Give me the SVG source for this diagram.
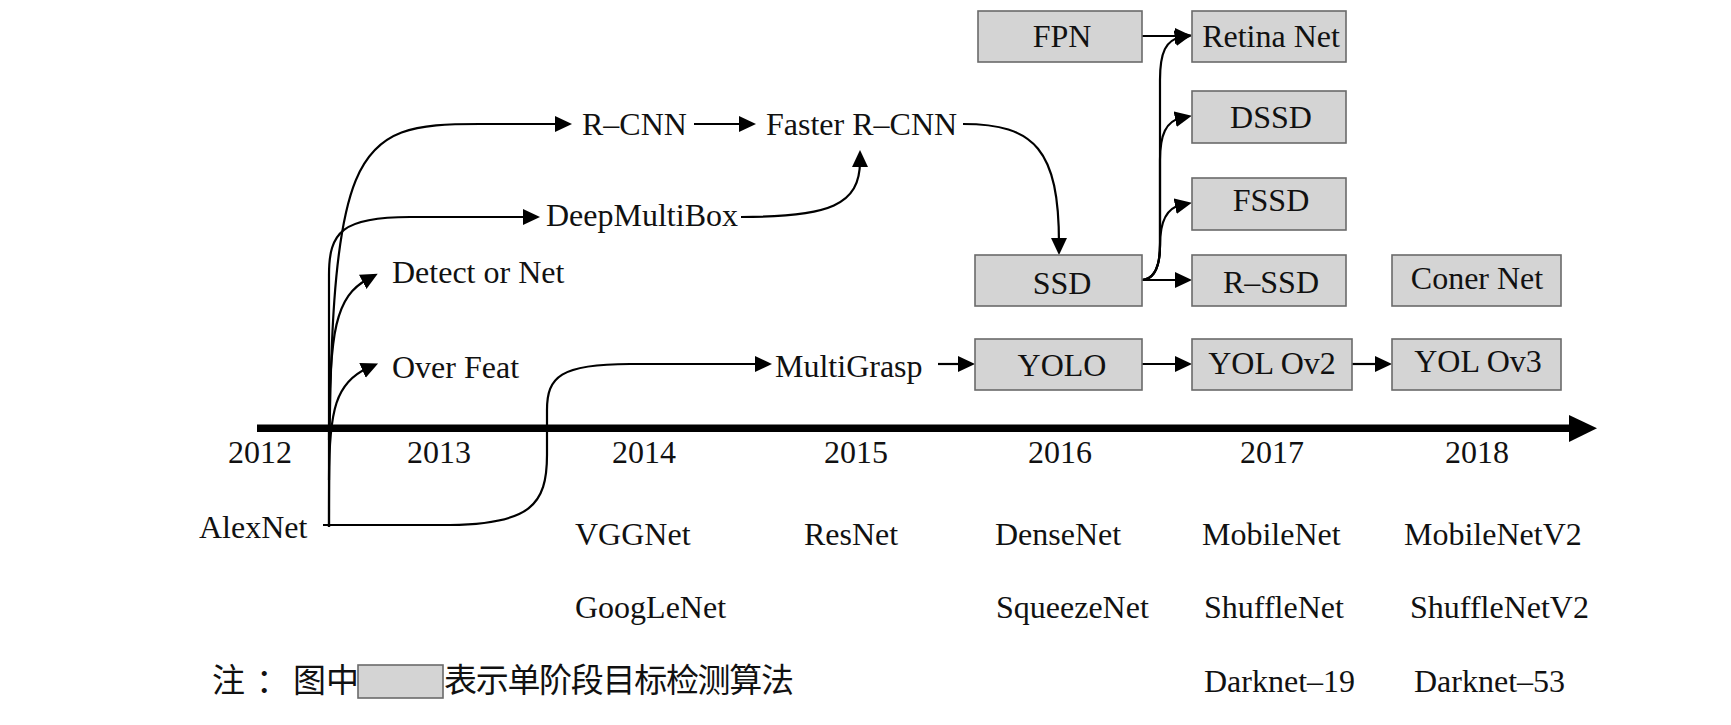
<svg xmlns="http://www.w3.org/2000/svg" width="1731" height="725" viewBox="0 0 1731 725">
<defs>
<style>
.t{font-family:"Liberation Serif","Times New Roman",serif;font-size:32px;fill:#111;}
.m{text-anchor:middle;}
.box{fill:#d4d4d4;stroke:#6a6a6a;stroke-width:1.6;}
.c{fill:none;stroke:#000;stroke-width:2.2;marker-end:url(#ah);}
.zh{font-family:"Noto Sans CJK SC","Noto Sans CJK TC",sans-serif;font-size:33px;fill:#111;}
</style>
<marker id="ah" markerUnits="userSpaceOnUse" markerWidth="20" markerHeight="18" refX="6" refY="8" orient="auto">
<path d="M0,0 L17,8 L0,16 z" fill="#000"/>
</marker>
</defs>
<rect width="1731" height="725" fill="#fff"/>

<g id="timeline">
<rect x="257" y="424.5" width="1315" height="7.5" fill="#000"/>
<polygon points="1569,415 1597,428.3 1569,442" fill="#000"/>
<text class="t m" x="260" y="463">2012</text>
<text class="t m" x="439" y="463">2013</text>
<text class="t m" x="644" y="463">2014</text>
<text class="t m" x="856" y="463">2015</text>
<text class="t m" x="1060" y="463">2016</text>
<text class="t m" x="1272" y="463">2017</text>
<text class="t m" x="1477" y="463">2018</text>
</g>

<g id="connectors">
<path class="c" d="M329,527 C329,140 350,124 480,124 L561,124"/>
<path class="c" d="M329,527 L329,275 C329,232 342,217 410,217 L529,217"/>
<path class="c" d="M329,440 C329,330 336,296 368,279"/>
<path class="c" d="M329,480 C329,410 336,382 368,368"/>
<path class="c" d="M323,525 L450,525 C530,524 547,505 547,455 L547,410 C547,377 560,364 630,364 L761,364"/>
<path class="c" d="M694,124 L745,124"/>
<path class="c" d="M741,217 C830,217 860,205 860,161"/>
<path class="c" d="M963,124 C1035,124 1059,150 1059,244"/>
<path class="c" d="M1142,280 L1181,280"/>
<path class="c" d="M1142,280 C1155,279 1160,265 1160,245 C1160,222 1166,208 1181,205"/>
<path class="c" d="M1142,280 C1155,279 1160,265 1160,245 L1160,160 C1160,135 1166,121 1181,118"/>
<path class="c" d="M1142,280 C1155,279 1160,265 1160,245 L1160,80 C1160,52 1166,40 1181,37"/>
<path class="c" d="M1142,36 L1181,36"/>
<path class="c" d="M938,364 L964,364"/>
<path class="c" d="M1142,364 L1181,364"/>
<path class="c" d="M1352,364 L1381,364"/>
</g>

<g id="alexnet"><text class="t" x="199" y="538">AlexNet</text></g>
<g id="rcnn"><text class="t" x="582" y="135">R–CNN</text></g>
<g id="faster-rcnn"><text class="t" x="766" y="135">Faster R–CNN</text></g>
<g id="deepmultibox"><text class="t" x="546" y="226">DeepMultiBox</text></g>
<g id="detectornet"><text class="t" x="392" y="283">Detect or Net</text></g>
<g id="overfeat"><text class="t" x="392" y="378">Over Feat</text></g>
<g id="multigrasp"><text class="t" x="775" y="377">MultiGrasp</text></g>

<g id="fpn"><rect class="box" x="978" y="11" width="164" height="51"/><text class="t m" x="1062" y="47">FPN</text></g>
<g id="retinanet"><rect class="box" x="1192" y="11" width="154" height="51"/><text class="t m" x="1271" y="47">Retina Net</text></g>
<g id="dssd"><rect class="box" x="1192" y="91" width="154" height="52"/><text class="t m" x="1271" y="128">DSSD</text></g>
<g id="fssd"><rect class="box" x="1192" y="178" width="154" height="52"/><text class="t m" x="1271" y="211">FSSD</text></g>
<g id="ssd"><rect class="box" x="975" y="255" width="167" height="51"/><text class="t m" x="1062" y="294">SSD</text></g>
<g id="rssd"><rect class="box" x="1192" y="255" width="154" height="51"/><text class="t m" x="1271" y="293">R–SSD</text></g>
<g id="conernet"><rect class="box" x="1392" y="255" width="169" height="51"/><text class="t m" x="1477" y="289">Coner Net</text></g>
<g id="yolo"><rect class="box" x="975" y="339" width="167" height="51"/><text class="t m" x="1062" y="376">YOLO</text></g>
<g id="yolov2"><rect class="box" x="1192" y="339" width="160" height="51"/><text class="t m" x="1272" y="374">YOL Ov2</text></g>
<g id="yolov3"><rect class="box" x="1392" y="339" width="169" height="51"/><text class="t m" x="1478" y="372">YOL Ov3</text></g>

<g id="backbones">
<text class="t" x="575" y="545">VGGNet</text>
<text class="t" x="804" y="545">ResNet</text>
<text class="t" x="995" y="545">DenseNet</text>
<text class="t" x="1202" y="545">MobileNet</text>
<text class="t" x="1404" y="545">MobileNetV2</text>
<text class="t" x="575" y="618">GoogLeNet</text>
<text class="t" x="996" y="618">SqueezeNet</text>
<text class="t" x="1204" y="618">ShuffleNet</text>
<text class="t" x="1410" y="618">ShuffleNetV2</text>
<text class="t" x="1204" y="692">Darknet–19</text>
<text class="t" x="1414" y="692">Darknet–53</text>
</g>

<g id="legend">
<text class="zh" x="212" y="692">注</text>
<text class="zh" x="256" y="692">：</text>
<text class="zh" x="293" y="692">图中</text>
<rect class="box" x="358" y="665" width="85" height="33"/>
<text class="zh" x="444" y="692" textLength="350" lengthAdjust="spacing">表示单阶段目标检测算法</text>
</g>
</svg>
